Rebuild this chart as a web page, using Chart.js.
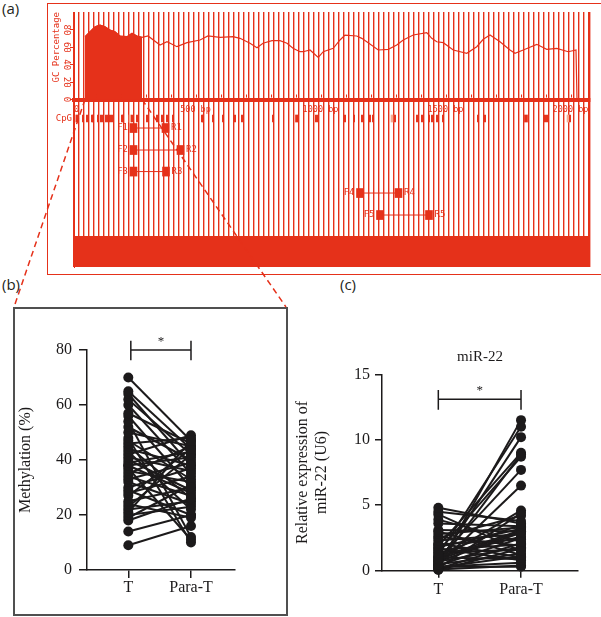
<!DOCTYPE html>
<html>
<head>
<meta charset="utf-8">
<script src="https://cdn.jsdelivr.net/npm/chart.js@4.4.1/dist/chart.umd.min.js"></script>
<style>
  html,body{margin:0;padding:0;background:#fff;}
  body{width:601px;height:617px;position:relative;overflow:hidden;font-family:"Open Sans","Noto Sans",sans-serif;}
  .lbl{position:absolute;font-size:15px;color:#231f20;line-height:1;}
  canvas{position:absolute;}
  .box{position:absolute;box-sizing:border-box;pointer-events:none;}
</style>
</head>
<body>
<div class="lbl" style="left:2px;top:1px">(a)</div>
<div class="lbl" style="left:2px;top:277px">(b)</div>
<div class="lbl" style="left:340px;top:277px">(c)</div>

<canvas id="ca" width="552" height="271" style="left:48px;top:3px"></canvas>
<div class="box" style="left:47px;top:3px;width:562px;height:272px;border:1px solid #e5311a"></div>

<canvas id="cb" width="273" height="307" style="left:14px;top:308px"></canvas>
<div class="box" style="left:13px;top:307px;width:275px;height:309px;border:2px solid #505050"></div>

<canvas id="cc" width="311" height="287" style="left:290px;top:330px"></canvas>

<svg id="links" width="601" height="617" style="position:absolute;left:0;top:0;pointer-events:none"></svg>

<script>
/* ---------- data: (a) promoter region ---------- */
// GC percentage profile, bp position / %
const gcPos = [58, 78, 98, 118, 138, 158, 178, 198, 226, 246, 266, 286,
  310, 358, 386, 426, 466, 518, 550, 598, 650, 678, 718, 746, 770, 806, 838, 866, 890, 918,
  931, 958, 991, 1011, 1051, 1078, 1098, 1145, 1165, 1185, 1231, 1271, 1305, 1331, 1371, 1425,
  1445, 1465, 1491, 1531, 1585, 1625, 1651, 1678, 1718, 1758, 1778, 1811, 1865, 1905, 1945,
  1991, 2022, 2026];
const gcVal = [72.3, 78, 83.8, 85.7, 83.8, 80, 78, 73, 72.3, 76.2, 73, 71.6,
  73.1, 62.7, 66.5, 60.8, 65.4, 68.5, 73.1, 71.6, 72.3, 70.4, 64.7, 59.6, 64.7, 67.7, 67.7, 64.7, 58.9, 55,
  55, 57, 48.5, 55, 58.9, 68.5, 74.2, 73.1, 70.4, 66.5, 57, 57.8, 62.7, 68.5, 74.2, 76.9,
  70.4, 66.5, 65.4, 57, 53.2, 60.8, 69.3, 74.2, 66.5, 57, 53.2, 57, 63.5, 57.8, 58.9,
  55, 57, 0];
const ISLAND_END = 286;

// CpG sites (bp)
const cpgPos = [24, 30, 50, 66, 86, 90, 110, 122, 130, 142, 150, 158, 166, 206, 210, 246, 266, 306,
  346, 366, 386, 410, 526, 530, 570, 610, 658, 686, 810, 982, 990, 1098, 1134, 1166, 1198, 1210,
  1298, 1386, 1406, 1434, 1446, 1466, 1490, 1630, 1658, 1898, 1906, 1998];
const cpgThick = [906, 1822];
const cpgPale = [238, 1286, 1990];

// primer pairs (bp)
const primerNames = ['1', '2', '3', '4', '5'];
const primerFwd = [252, 252, 252, 1158, 1238];
const primerRev = [380, 440, 382, 1312, 1434];

// background marker lines (bp) drawn pale
const paleLines = [240, 500, 600, 880, 1000, 1100, 1240, 1620, 1880, 1980];
const bpLabels = [0, 500, 1000, 1500, 2000];
const gcTicks = [0, 20, 40, 60, 80];

/* ---------- data: (b) methylation, (c) miR-22 ---------- */
const groups = ['T', 'Para-T'];
const methT = [70, 65, 64, 62, 60, 57, 56, 54, 52, 50, 48, 47, 46, 45, 44, 43, 42, 41, 40, 39, 38,
  38, 37, 36, 35, 34, 33, 32, 30, 29, 28, 27, 25, 24, 23, 22, 21, 20, 19, 18, 14, 9];
const methP = [47, 44, 38, 42, 35, 46, 30, 12, 40, 45, 10, 33, 48, 26, 38, 22, 49, 36, 29, 43, 28,
  41, 11, 32, 45, 27, 39, 24, 37, 20, 34, 44, 30, 19, 42, 25, 47, 23, 31, 26, 20, 16];
const mirT = [4.8, 4.5, 4.3, 3.9, 3.6, 3.1, 3.0, 2.8, 2.6, 2.5, 2.3, 2.1, 2.0, 1.9, 1.8, 1.7, 1.6,
  1.5, 1.4, 1.3, 1.2, 1.1, 1.0, 0.9, 0.85, 0.8, 0.7, 0.6, 0.5, 0.45, 0.4, 0.35, 0.3, 0.25, 0.2,
  0.15, 0.1, 0.05, 0.5, 1.0, 0.3, 0.7];
const mirP = [3.6, 3.8, 1.5, 2.2, 3.4, 3.0, 1.2, 3.3, 1.9, 4.2, 2.8, 1.0, 2.4, 9.0, 3.2, 0.8, 2.0,
  8.7, 1.6, 3.5, 11.0, 2.6, 0.9, 7.7, 3.0, 4.6, 1.8, 10.2, 1.3, 6.5, 2.5, 11.5, 0.6, 1.1, 4.4,
  2.1, 0.4, 1.7, 8.9, 3.1, 0.3, 2.9];

/* ---------- styling / layout ---------- */
const RED = '#e5311a', PALE = '#f7ab91', INK = '#1c1a1b';
const MONO = '"DejaVu Sans Mono", monospace';
const SERIF = '"Liberation Serif", "DejaVu Serif", serif';
// track rows in GC-% units (so everything shares one y scale)
const TRACK = {cpg: [-25.9, -17.8], primers: [-32.8, -58.1, -82.9, -107.6, -132.9], half: 5.2,
  seqTop: -157.1, yMin: -192.7, yMax: 100.7, xMin: 14, xMax: 2078};

const floatBars = (xs, lo, hi, w, col) => ({
  type: 'bar', data: xs.map(x => ({x, y: [lo, hi]})), backgroundColor: col,
  barThickness: w, grouped: false, borderWidth: 0
});

// bp labels + minor ticks along the ruler, CpG / primer names
const trackLabels = {
  id: 'trackLabels',
  afterDatasetsDraw(chart) {
    const {ctx, scales: {x, y}, chartArea} = chart;
    const y0 = y.getPixelForValue(0);
    ctx.save();
    ctx.fillStyle = RED;
    for (let v = 100; v <= TRACK.xMax; v += 100) {
      const px = Math.round(x.getPixelForValue(v));
      ctx.fillRect(px, y0 - 5, 1, 3);
    }
    ctx.font = '8.5px ' + MONO; ctx.textBaseline = 'top';
    bpLabels.forEach(v => {
      const px = x.getPixelForValue(v);
      const txt = v === 0 ? '0' : v + ' bp';
      if (px < chartArea.left) { ctx.textAlign = 'left'; ctx.fillText(txt, chartArea.left, y0 + 6); }
      else { ctx.textAlign = 'center'; ctx.fillText(txt, px, y0 + 6); }
    });
    ctx.font = '9px ' + MONO; ctx.textBaseline = 'middle';
    ctx.textAlign = 'right';
    ctx.fillText('CpG', chartArea.left - 2, y.getPixelForValue((TRACK.cpg[0] + TRACK.cpg[1]) / 2));
    primerNames.forEach((n, i) => {
      const py = y.getPixelForValue(TRACK.primers[i]);
      ctx.textAlign = 'right'; ctx.fillText('F' + n, x.getPixelForValue(primerFwd[i]) - 5.5, py);
      ctx.textAlign = 'left'; ctx.fillText('R' + n, x.getPixelForValue(primerRev[i]) + 5.5, py);
    });
    ctx.restore();
  }
};

const gcPts = gcPos.map((x, i) => ({x, y: gcVal[i]}));
const dsA = [
  {data: gcPts, borderColor: RED, borderWidth: 1.2, fill: false},
  {data: gcPts.filter(p => p.x <= ISLAND_END), borderColor: RED, borderWidth: 1,
   backgroundColor: RED, fill: 'origin'},
  floatBars(cpgPos, TRACK.cpg[0], TRACK.cpg[1], 1.3, RED),
  floatBars(cpgThick, TRACK.cpg[0], TRACK.cpg[1], 3, RED),
  floatBars(cpgPale, TRACK.cpg[0], TRACK.cpg[1], 2, PALE),
  ...primerNames.map((n, i) => floatBars([primerFwd[i], primerRev[i]],
      TRACK.primers[i] - TRACK.half, TRACK.primers[i] + TRACK.half, 7, RED)),
  ...primerNames.map((n, i) => ({
    data: [{x: primerFwd[i], y: TRACK.primers[i]}, {x: primerRev[i], y: TRACK.primers[i]}],
    borderColor: RED, borderWidth: 1, fill: false})),
  {data: [{x: TRACK.xMin, y: TRACK.seqTop}, {x: TRACK.xMax, y: TRACK.seqTop}], borderWidth: 0,
   borderColor: RED, backgroundColor: RED, fill: 'start'}
];

const chartA = new Chart(document.getElementById('ca'), {
  type: 'line',
  data: {datasets: dsA},
  options: {
    responsive: false, animation: false, devicePixelRatio: 1, events: [],
    layout: {padding: {top: 9, right: 10, bottom: 7, left: 0}},
    elements: {point: {radius: 0}, line: {tension: 0}},
    plugins: {legend: {display: false}, tooltip: {enabled: false}},
    scales: {
      x: {
        type: 'linear', min: TRACK.xMin, max: TRACK.xMax, bounds: 'data', offset: false, position: {y: 0},
        grid: {offset: false, drawTicks: false,
               color: c => paleLines.includes(c.tick && c.tick.value) ? PALE : RED,
               lineWidth: c => paleLines.includes(c.tick && c.tick.value) ? 2 : 1.4},
        border: {display: true, color: RED, width: 4},
        ticks: {display: false, stepSize: 20, autoSkip: false, maxRotation: 0, includeBounds: false}
      },
      y: {
        type: 'linear', min: TRACK.yMin, max: TRACK.yMax, position: 'left',
        afterBuildTicks: s => { s.ticks = gcTicks.map(v => ({value: v})); },
        afterFit: s => { s.width = 26; },
        grid: {drawOnChartArea: false, color: RED, tickLength: 4, lineWidth: 1},
        border: {display: true, color: RED, width: 1},
        ticks: {color: RED, minRotation: -90, maxRotation: -90, crossAlign: 'center', padding: -2,
                font: {family: MONO, size: 9}},
        title: {display: true, text: 'GC Percentage', color: RED, align: 'end',
                padding: {top: 3, bottom: 0}, font: {family: MONO, size: 9}}
      }
    }
  },
  plugins: [trackLabels]
});

// dashed connectors from the CpG island to panel (b)
(function () {
  const xa = chartA.scales.x, ya = chartA.scales.y;
  const y0 = 3 + ya.getPixelForValue(0);
  const xs = 48 + xa.getPixelForValue(gcPos[0]);
  const xe = 48 + xa.getPixelForValue(ISLAND_END);
  const st = `stroke="${RED}" stroke-width="1.5" stroke-dasharray="6 4"`;
  document.getElementById('links').innerHTML =
    `<line x1="${xs}" y1="${y0}" x2="14" y2="307" ${st}/>` +
    `<line x1="${xe}" y1="${y0}" x2="286" y2="307" ${st}/>`;
})();

/* ---------- (b) and (c) paired plots ---------- */
const sigStar = {
  id: 'sigStar',
  afterDatasetsDraw(chart, args, o) {
    const {ctx, scales: {x, y}} = chart;
    ctx.save();
    ctx.fillStyle = INK; ctx.font = '13px ' + SERIF;
    ctx.textAlign = 'center'; ctx.textBaseline = 'alphabetic';
    ctx.fillText('*', x.getPixelForValue((o.x0 + o.x1) / 2), y.getPixelForValue(o.mid) - 5);
    ctx.restore();
  }
};

function paired(id, tv, pv, o) {
  const ds = tv.map((t, i) => ({
    data: [{x: 0, y: t}, {x: 1, y: pv[i]}], showLine: true, clip: false,
    borderColor: INK, borderWidth: 2, pointRadius: 5, pointBackgroundColor: INK,
    pointBorderColor: INK, pointBorderWidth: 0
  }));
  const [x0, x1] = o.br, [top, mid, bot] = o.brY;
  ds.push({
    data: [{x: x0, y: top}, {x: x0, y: bot}, {x: x0, y: mid}, {x: x1, y: mid}, {x: x1, y: top}, {x: x1, y: bot}],
    showLine: true, clip: false, borderColor: INK, borderWidth: 1.5, pointRadius: 0
  });
  const axisGrid = {drawOnChartArea: false, color: INK, lineWidth: 1.5, tickLength: o.tick};
  return new Chart(document.getElementById(id), {
    type: 'scatter',
    data: {datasets: ds},
    options: {
      responsive: false, animation: false, devicePixelRatio: 1, events: [],
      layout: {padding: o.pad},
      plugins: {
        legend: {display: false}, tooltip: {enabled: false},
        title: o.title ? {display: true, text: o.title, fullSize: false, color: INK,
                          padding: {top: 18, bottom: 8.3}, font: {family: SERIF, size: 15, weight: 'normal'}}
                       : {display: false},
        sigStar: {x0, x1, mid}
      },
      scales: {
        x: {
          type: 'linear', min: o.x[0], max: o.x[1],
          afterBuildTicks: s => { s.ticks = groups.map((g, i) => ({value: i})); },
          afterFit: s => { s.height = o.xh; },
          grid: axisGrid, border: {color: INK, width: 1.5},
          ticks: {padding: o.xpad, color: INK, font: {family: SERIF, size: 16}, callback: v => groups[v]}
        },
        y: {
          type: 'linear', min: 0, max: o.y[1],
          afterFit: s => { s.width = o.yw; },
          grid: axisGrid, border: {color: INK, width: 1.5},
          ticks: {stepSize: o.y[2], padding: o.ypad, color: INK, font: {family: SERIF, size: 16}},
          title: {display: true, text: o.ytitle, color: INK, padding: {top: o.tpad, bottom: 0},
                  font: {family: SERIF, size: 16}}
        }
      }
    },
    plugins: [sigStar]
  });
}

paired('cb', methT, methP, {
  br: [0.04, 1], brY: [83.4, 80, 76.3], tick: 8,
  pad: {top: 42, right: 52, bottom: 0, left: 0},
  x: [-0.659, 1.702], xh: 45, xpad: 0,
  y: [0, 80, 20], yw: 73, ypad: 7,
  ytitle: 'Methylation (%)', tpad: 2
});

paired('cc', mirT, mirP, {
  br: [0, 1], brY: [13.8, 13.1, 12.3], tick: 7, title: 'miR-22',
  pad: {top: 0, right: 23, bottom: 0, left: 0},
  x: [-0.681, 1.689], xh: 46.3, xpad: 2,
  y: [0, 15, 5], yw: 92, ypad: 5,
  ytitle: ['Relative expression of', 'miR-22 (U6)'], tpad: 3
});
</script>
</body>
</html>
